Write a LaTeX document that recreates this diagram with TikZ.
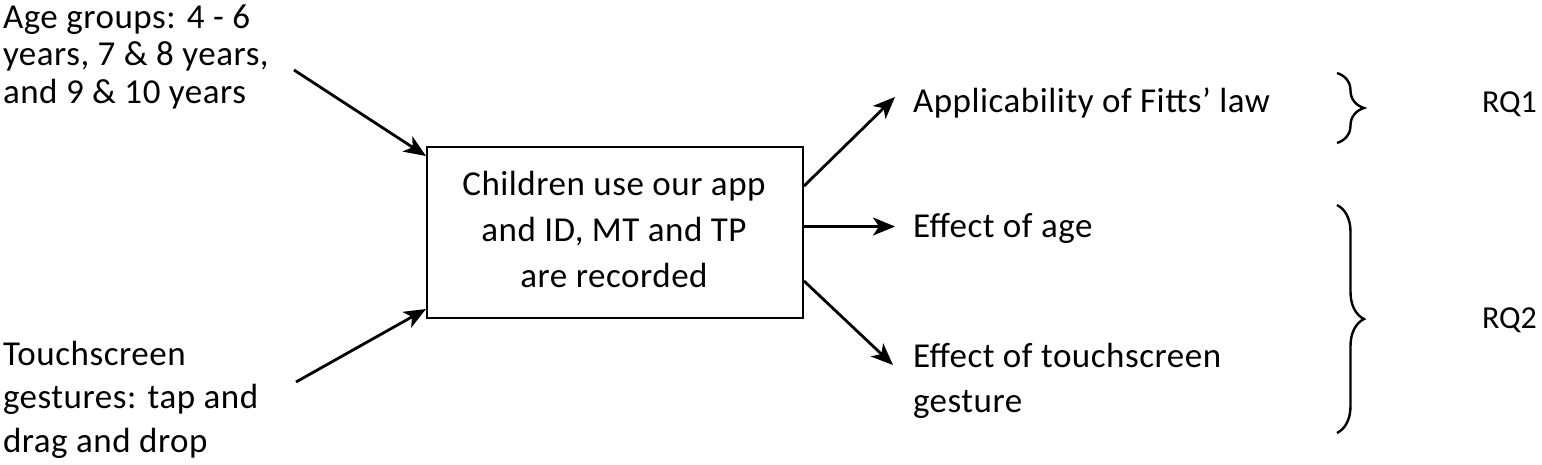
\documentclass[tikz,border=0pt]{standalone}
\usepackage{fontspec}
\setmainfont{Carlito}
\usetikzlibrary{arrows.meta,calc,decorations.pathreplacing}
\begin{document}
\begin{tikzpicture}[x=1pt,y=-1pt,
  txt/.style={inner sep=0pt, outer sep=0pt, align=left, anchor=base west},
  fnt/.style={font=\fontsize{35}{#1}\selectfont\addfontfeature{LetterSpace=1.5}},
  rqf/.style={font=\fontsize{32}{38}\selectfont},
  arr/.style={line width=2.8pt, -{Stealth[length=22pt,width=18pt,inset=6pt]}},
  brc/.style={decorate, decoration={brace, amplitude=27pt}, line width=2.4pt},
  boxst/.style={draw, line width=2pt, minimum width=376pt, minimum height=171pt, inner sep=0pt}]
\useasboundingbox (0,0) rectangle (1542,464);
% texts
\node[txt, fnt=37.5] (age) at (3,103) {Age groups: 4 - 6\\years, 7 \& 8 years,\\and 9 \& 10 years};
\node[txt, fnt=43.5] (touch) at (3,452) {Touchscreen\\gestures: tap and\\drag and drop};
\node[boxst] (box) at (615,232.5) {};
\node[fnt=46, align=center, inner sep=0pt, anchor=base] (boxtxt) at (614,287) {Children use our app\\and ID, MT and TP\\are recorded};
\node[txt, fnt=40] (fitts) at (913,112) {Applicability of Fitts’ law};
\node[txt, fnt=40] (agee) at (913,237) {Effect of age};
\node[txt, fnt=45] (gest) at (913,412) {Effect of touchscreen\\gesture};
\node[txt, rqf] (rq1) at (1482,112) {RQ1};
\node[txt, rqf] (rq2) at (1482,328) {RQ2};
% arrow anchors
\coordinate (a1) at (294,70);
\coordinate (a2) at (296,382);
\coordinate (b1) at ($(box.north west)+(0,10)$);
\coordinate (b2) at ($(box.south west)+(0,-10)$);
\coordinate (c1) at ($(box.north east)+(0,40)$);
\coordinate (c2) at ($(box.east)+(0,-6)$);
\coordinate (c3) at ($(box.south east)+(0,-38)$);
\coordinate (d1) at (895,97);
\coordinate (d2) at (895,226.5);
\coordinate (d3) at (893,365);
\draw[arr] (a1) -- (b1);
\draw[arr] (a2) -- (b2);
\draw[arr] (c1) -- (d1);
\draw[arr] (c2) -- (d2);
\draw[arr] (c3) -- (d3);
% braces
\coordinate (s1) at (1337,73);
\coordinate (s2) at (1337,143);
\coordinate (t1) at (1337,205);
\coordinate (t2) at (1337,433);
\draw[brc] (s1) -- (s2);
\draw[brc] (t1) -- (t2);
\end{tikzpicture}
\end{document}
